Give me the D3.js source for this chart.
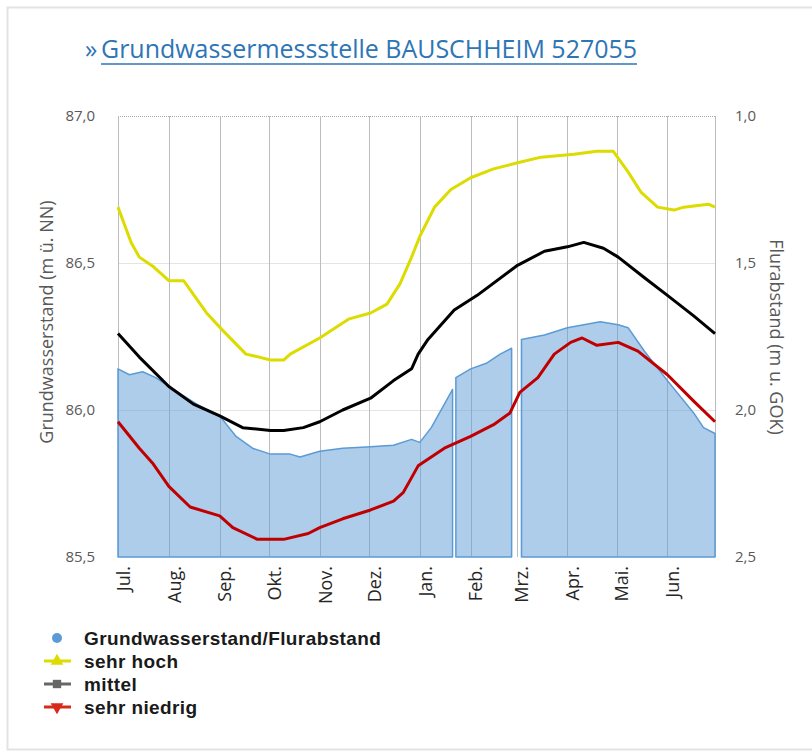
<!DOCTYPE html>
<html>
<head>
<meta charset="utf-8">
<script src="https://cdn.jsdelivr.net/npm/d3@7"></script>
<style>
  html, body { margin: 0; padding: 0; background: #fff; }
  svg { display: block; }
</style>
</head>
<body>
<svg id="chart" width="812" height="752"></svg>
<script>
// ---------------- DATA ----------------
const titleText = "Grundwassermessstelle BAUSCHHEIM 527055";
const leftAxisTitle = "Grundwasserstand (m ü. NN)";
const rightAxisTitle = "Flurabstand (m u. GOK)";
const monthLabels = ["Jul.","Aug.","Sep.","Okt.","Nov.","Dez.","Jan.","Feb.","Mrz.","Apr.","Mai.","Jun."];
const leftTicks = [85.5, 86.0, 86.5, 87.0];
const rightTicks = [1.0, 1.5, 2.0, 2.5];
const legendLabels = ["Grundwasserstand/Flurabstand", "sehr hoch", "mittel", "sehr niedrig"];

// sehr hoch
const hochDates = ["2022-07-01","2022-07-09","2022-07-14","2022-07-22","2022-08-01","2022-08-10","2022-08-24","2022-09-03","2022-09-17","2022-09-25","2022-10-02","2022-10-10","2022-10-14","2022-11-01","2022-11-19","2022-12-02","2022-12-12","2022-12-20","2022-12-27","2023-01-01","2023-01-10","2023-01-20","2023-02-01","2023-02-15","2023-03-01","2023-03-16","2023-04-05","2023-04-19","2023-04-29","2023-05-08","2023-05-16","2023-05-26","2023-06-05","2023-06-11","2023-06-26","2023-06-30"];
const hochValues = [86.69,86.57,86.52,86.49,86.44,86.44,86.33,86.27,86.19,86.18,86.17,86.17,86.19,86.245,86.31,86.33,86.36,86.43,86.52,86.59,86.69,86.75,86.79,86.82,86.84,86.86,86.87,86.88,86.88,86.81,86.74,86.69,86.68,86.69,86.70,86.69];

// mittel
const mittelDates = ["2022-07-01","2022-07-14","2022-08-01","2022-08-16","2022-09-01","2022-09-15","2022-10-02","2022-10-10","2022-10-22","2022-11-01","2022-11-15","2022-12-02","2022-12-16","2022-12-27","2022-12-31","2023-01-06","2023-01-22","2023-02-05","2023-03-01","2023-03-18","2023-04-01","2023-04-11","2023-04-23","2023-05-02","2023-05-18","2023-06-01","2023-06-17","2023-06-30"];
const mittelValues = [86.26,86.18,86.08,86.02,85.98,85.94,85.93,85.93,85.94,85.96,86.00,86.04,86.10,86.14,86.19,86.24,86.34,86.39,86.49,86.54,86.555,86.57,86.55,86.52,86.45,86.39,86.32,86.26];

// sehr niedrig
const niedrigDates = ["2022-07-01","2022-07-14","2022-07-22","2022-08-01","2022-08-14","2022-09-01","2022-09-09","2022-09-24","2022-10-10","2022-10-25","2022-11-01","2022-11-15","2022-12-02","2022-12-16","2022-12-22","2022-12-27","2022-12-31","2023-01-16","2023-02-01","2023-02-15","2023-02-25","2023-03-03","2023-03-14","2023-03-24","2023-04-03","2023-04-10","2023-04-19","2023-05-02","2023-05-14","2023-06-01","2023-06-17","2023-06-30"];
const niedrigValues = [85.96,85.87,85.82,85.74,85.67,85.64,85.60,85.56,85.56,85.58,85.60,85.63,85.66,85.69,85.72,85.77,85.81,85.87,85.91,85.95,85.99,86.06,86.11,86.19,86.23,86.245,86.22,86.23,86.20,86.12,86.03,85.96];

// Grundwasserstand (measured), three segments separated by data gaps
const gwDates1 = ["2022-07-01","2022-07-08","2022-07-16","2022-07-24","2022-08-01","2022-08-18","2022-09-01","2022-09-11","2022-09-21","2022-10-02","2022-10-14","2022-10-20","2022-11-01","2022-11-15","2022-12-02","2022-12-16","2022-12-27","2023-01-01","2023-01-08","2023-01-16","2023-01-21"];
const gwValues1 = [86.14,86.12,86.13,86.11,86.08,86.02,85.98,85.91,85.87,85.85,85.85,85.84,85.86,85.87,85.875,85.88,85.90,85.89,85.94,86.02,86.07];
const gwDates2 = ["2023-01-23","2023-02-01","2023-02-11","2023-02-19","2023-02-26"];
const gwValues2 = [86.11,86.14,86.16,86.19,86.21];
const gwDates3 = ["2023-03-04","2023-03-18","2023-04-01","2023-04-11","2023-04-21","2023-05-02","2023-05-08","2023-05-18","2023-06-01","2023-06-17","2023-06-23","2023-06-30"];
const gwValues3 = [86.24,86.255,86.28,86.29,86.30,86.29,86.28,86.20,86.10,85.99,85.94,85.92];

// ---------------- DRAW ----------------
const parse = d3.timeParse("%Y-%m-%d");
const zip = (ds, vs) => ds.map((d, i) => ({ date: parse(d), value: vs[i] }));

const svg = d3.select("#chart");
const plot = { left: 118, right: 715, top: 116, bottom: 557 };

const x = d3.scaleTime()
  .domain([parse("2022-07-01"), parse("2023-06-30")])
  .range([plot.left, plot.right]);
const yL = d3.scaleLinear().domain([85.5, 87.0]).range([plot.bottom, plot.top]);
const yR = d3.scaleLinear().domain([2.5, 1.0]).range([plot.bottom, plot.top]);

// outer frame
svg.append("rect").attr("x", 7.5).attr("y", 7.5).attr("width", 812).attr("height", 742)
  .attr("fill", "none").attr("stroke", "#e3e3e3").attr("stroke-width", 2);

// title
const fontMain = "'Open Sans', 'Segoe UI', sans-serif";
const tTitle = svg.append("text").attr("x", 101).attr("y", 58)
  .attr("font-family", fontMain).attr("font-size", 24).attr("fill", "#2e75b6")
  .text(titleText);
const wT = tTitle.node().getComputedTextLength();
const fs = 24 * 536 / wT;
tTitle.attr("font-size", fs).attr("textLength", 536).attr("lengthAdjust", "spacingAndGlyphs");
svg.append("text").attr("x", 85).attr("y", 58)
  .attr("font-family", fontMain).attr("font-size", fs).attr("fill", "#2e75b6").text("»");
svg.append("line").attr("x1", 101).attr("x2", 637).attr("y1", 64).attr("y2", 64)
  .attr("stroke", "#2e75b6").attr("stroke-width", 1.5);

// horizontal grid
svg.append("g").selectAll("line").data([86.0, 86.5]).join("line")
  .attr("x1", plot.left).attr("x2", plot.right)
  .attr("y1", d => yL(d) + 0.5).attr("y2", d => yL(d) + 0.5)
  .attr("stroke", "#e4e4e4").attr("stroke-width", 1);
svg.append("line").attr("x1", plot.left).attr("x2", plot.right)
  .attr("y1", yL(87) + 0.5).attr("y2", yL(87) + 0.5)
  .attr("stroke", "#aaa").attr("stroke-width", 1).attr("stroke-dasharray", "1,1");

// vertical grid (month boundaries)
const monthStarts = d3.timeMonth.range(parse("2022-07-01"), parse("2023-07-01"));
const vLines = monthStarts.concat([parse("2023-06-30")]);
svg.append("g").selectAll("line").data(vLines).join("line")
  .attr("x1", d => Math.round(x(d)) + 0.5).attr("x2", d => Math.round(x(d)) + 0.5)
  .attr("y1", plot.top).attr("y2", plot.bottom)
  .attr("stroke", "#bcbcbc").attr("stroke-width", 1);

// area (Grundwasserstand)
const area = d3.area().x(d => x(d.date)).y0(yL(85.5)).y1(d => yL(d.value));
[zip(gwDates1, gwValues1), zip(gwDates2, gwValues2), zip(gwDates3, gwValues3)].forEach(seg => {
  svg.append("path").datum(seg).attr("d", area)
    .attr("fill", "#5b9bd5").attr("fill-opacity", 0.5)
    .attr("stroke", "#5b9bd5").attr("stroke-width", 1.5).attr("stroke-linejoin", "round");
});

// lines
const line = d3.line().x(d => x(d.date)).y(d => yL(d.value));
const series = [
  { data: zip(hochDates, hochValues), color: "#dcdc00" },
  { data: zip(mittelDates, mittelValues), color: "#000000" },
  { data: zip(niedrigDates, niedrigValues), color: "#c00000" }
];
series.forEach(s => {
  svg.append("path").datum(s.data).attr("d", line)
    .attr("fill", "none").attr("stroke", s.color).attr("stroke-width", 3)
    .attr("stroke-linejoin", "round");
});

// axes
const fmt = d => d3.format(".1f")(d).replace(".", ",");
const gL = svg.append("g").attr("transform", `translate(${plot.left - 20},0)`)
  .call(d3.axisLeft(yL).tickValues(leftTicks).tickFormat(fmt).tickSize(0));
const gR = svg.append("g").attr("transform", `translate(${plot.right + 17},0)`)
  .call(d3.axisRight(yR).tickValues(rightTicks).tickFormat(fmt).tickSize(0));
[gL, gR].forEach(g => {
  g.select(".domain").remove();
  g.selectAll("text").attr("font-family", fontMain).attr("font-size", 15).attr("fill", "#595959");
});

const gX = svg.append("g").attr("transform", `translate(0,${plot.bottom})`)
  .call(d3.axisBottom(x).tickValues(monthStarts).tickSize(0).tickFormat((d, i) => monthLabels[i]));
gX.select(".domain").remove();
gX.selectAll("text")
  .attr("font-family", fontMain).attr("font-size", 18).attr("fill", "#262626")
  .attr("text-anchor", "end")
  .attr("transform", "translate(5,9) rotate(-90)")
  .attr("x", 0).attr("y", 0).attr("dy", "0.35em");

// axis titles
svg.append("text")
  .attr("transform", `translate(53,322) rotate(-90)`)
  .attr("text-anchor", "middle").attr("font-family", fontMain).attr("font-size", 18)
  .attr("fill", "#595959").text(leftAxisTitle);
svg.append("text")
  .attr("transform", `translate(770,337) rotate(90)`)
  .attr("text-anchor", "middle").attr("font-family", fontMain).attr("font-size", 18)
  .attr("fill", "#595959").text(rightAxisTitle);

// legend
const lg = svg.append("g").attr("font-family", "'Liberation Sans', Arial, sans-serif")
  .attr("font-weight", "bold").attr("font-size", 19).attr("fill", "#1a1a1a");
const rows = [638, 661, 684, 707];
legendLabels.forEach((t, i) => {
  lg.append("text").attr("x", 84).attr("y", rows[i]).attr("dy", "0.35em")
    .attr("letter-spacing", 0.4).text(t);
});
lg.append("circle").attr("cx", 57).attr("cy", rows[0]).attr("r", 5).attr("fill", "#5b9bd5");
const legendSym = [
  { color: "#dcdc00", sym: d3.symbolTriangle, rot: 0 },
  { color: "#666666", sym: d3.symbolSquare, rot: 0 },
  { color: "#d62a1b", sym: d3.symbolTriangle, rot: 180 }
];
legendSym.forEach((s, i) => {
  const cy = rows[i + 1];
  lg.append("line").attr("x1", 44).attr("x2", 71).attr("y1", cy).attr("y2", cy)
    .attr("stroke", s.color).attr("stroke-width", 3);
  lg.append("path").attr("d", d3.symbol().type(s.sym).size(70)())
    .attr("transform", `translate(57,${cy}) rotate(${s.rot})`).attr("fill", s.color);
});
</script>
</body>
</html>
